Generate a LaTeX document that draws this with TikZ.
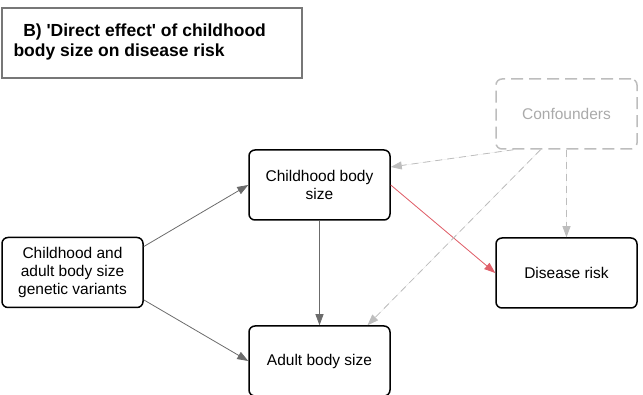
\documentclass[tikz,border=0pt]{standalone}
\usepackage{fontspec}
\setmainfont{Liberation Sans}
\usetikzlibrary{arrows.meta}
\definecolor{arrowgray}{HTML}{6B6B6B}
\definecolor{confgray}{HTML}{BDBDBD}
\definecolor{framegray}{HTML}{777777}
\definecolor{effectred}{HTML}{E0606A}
\tikzset{
  box/.style={draw=black, line width=1.5pt, rounded corners=6pt, minimum width=141pt,
    minimum height=70pt, align=center, font=\fontsize{15.5}{18}\selectfont},
  confbox/.style={box, draw=confgray, dash pattern=on 12pt off 6pt, text=confgray!90!black},
  link/.style={draw=arrowgray, line width=0.8pt, -{Triangle[length=11pt,width=8pt]}},
  conflink/.style={link, draw=confgray, dash pattern=on 7pt off 5pt},
}
\begin{document}
\begin{tikzpicture}[x=1pt, y=-1pt]
\useasboundingbox (0,0) rectangle (643,395);
\draw[framegray, line width=2pt] (2,8) rectangle (302,78);
\node[anchor=north west, align=left, font=\bfseries\fontsize{17.5}{20}\selectfont] (title) at (10,20)
  {\ \ B) \textquotesingle Direct effect\textquotesingle\ of childhood\\body size on disease risk};
\node[confbox] (conf) at (566.5,114) {Confounders};
\node[box] (child) at (319.5,185) {Childhood body\\size};
\node[box] (dis) at (566.5,273) {Disease risk};
\node[box] (gen) at (72.5,272.5) {Childhood and\\adult body size\\genetic variants};
\node[box] (adult) at (319.5,361) {Adult body size};
\draw[link] (gen.20) -- (child.west);
\draw[link] (gen.-21) -- (adult.west);
\draw[link] (child.south) -- (adult.north);
\draw[link, draw=effectred, fill=effectred] (child.east) -- (dis.west);
\draw[conflink, fill=confgray] ([xshift=-53pt]conf.south) -- ([yshift=18pt]child.east);
\draw[conflink, fill=confgray] ([xshift=-26pt]conf.south) -- ([xshift=48pt]adult.north);
\draw[conflink, fill=confgray] (conf.south) -- (dis.north);
\end{tikzpicture}
\end{document}
